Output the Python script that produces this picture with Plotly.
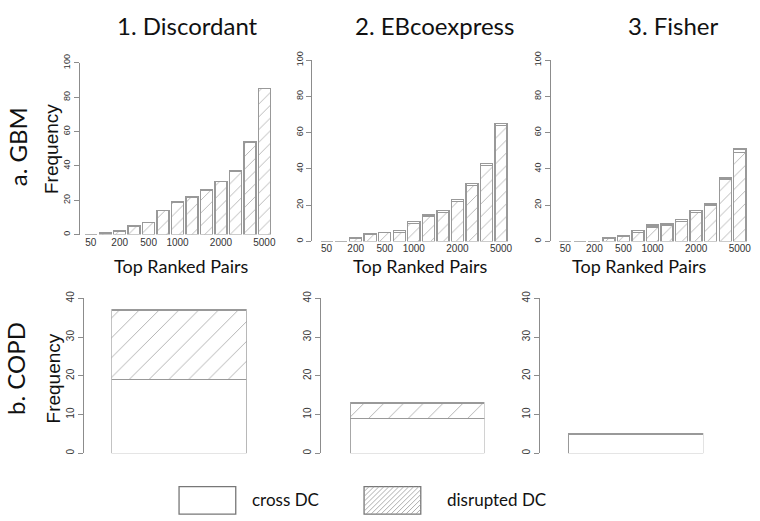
import plotly.graph_objects as go

W, H = 760, 521

pairs = ["50", "100", "200", "300", "500", "750", "1000", "1250", "1500", "2000", "3000", "4000", "5000"]
shown_pairs = ["50", "200", "500", "1000", "2000", "5000"]

gbm_disc_disrupted = [0, 1, 2, 5, 7, 14, 19, 22, 26, 31, 37, 54, 85]
gbm_disc_cross = [0, 0, 0, 0, 0, 0, 0, 0, 0, 0, 0, 0, 0]
gbm_eb_disrupted = [0, 0, 2, 4, 5, 5, 10, 14, 16, 22, 31, 42, 64]
gbm_eb_cross = [0, 0, 0, 0, 0, 1, 1, 1, 1, 1, 1, 1, 1]
gbm_fisher_disrupted = [0, 0, 0, 2, 3, 5, 8, 9, 11, 16, 20, 34, 49]
gbm_fisher_cross = [0, 0, 0, 0, 0, 1, 1, 1, 1, 1, 1, 1, 2]

copd_cross = [19, 9, 5]
copd_disrupted = [18, 4, 0]

methods = ["1. Discordant", "2. EBcoexpress", "3. Fisher"]

AX = "#8c8c8c"
BAR_LINE = "#999999"
HATCH = "#666666"
TXT = "#333333"
TITLE_FONT = "Lato"
AXIS_FONT = "Liberation Sans"

def px(x):
    return x / W

def py(y):
    return 1 - y / H

fig = go.Figure()

top_panels = [
    dict(x0=84, x1=273, axis=79, y0=230, y1=55),
    dict(x0=321, x1=511, axis=313, y0=237, y1=52),
    dict(x0=561, x1=751, axis=553, y0=237, y1=52),
]
bot_panels = [
    dict(x0=112, x1=248, axis=83, y0=453, y1=295),
    dict(x0=352, x1=487, axis=322, y0=453, y1=295),
    dict(x0=571, x1=707, axis=542, y0=453, y1=295),
]

top_data = [
    (gbm_disc_disrupted, gbm_disc_cross),
    (gbm_eb_disrupted, gbm_eb_cross),
    (gbm_fisher_disrupted, gbm_fisher_cross),
]

layout = {}
for i, (p, (dis, cro)) in enumerate(zip(top_panels, top_data)):
    n = i + 1
    xa, ya = f"x{n}", f"y{n}"
    fig.add_trace(go.Bar(
        x=pairs, y=dis, xaxis=xa, yaxis=ya, width=0.83,
        marker=dict(color="white", line=dict(color=BAR_LINE, width=1.4),
                    pattern=dict(shape="/", fgcolor=HATCH, bgcolor="white", size=9, solidity=0.1)),
        showlegend=False, hoverinfo="skip"))
    fig.add_trace(go.Bar(
        x=pairs, y=cro, xaxis=xa, yaxis=ya, width=0.83,
        marker=dict(color="white", line=dict(color=BAR_LINE, width=1.4)),
        showlegend=False, hoverinfo="skip"))
    layout[f"xaxis{n}"] = dict(
        domain=[px(p["x0"]), px(p["x1"])], anchor=ya, type="category",
        categoryorder="array", categoryarray=pairs, range=[-0.5, 12.5],
        showline=False, showgrid=False, zeroline=False, ticks="",
        tickmode="array", tickvals=shown_pairs, ticktext=shown_pairs,
        tickfont=dict(family=AXIS_FONT, size=10, color=TXT), ticklabelstandoff=0)
    layout[f"yaxis{n}"] = dict(
        domain=[py(p["y0"]), py(p["y1"])], anchor="free", position=px(p["axis"]),
        range=[0, 100], tickvals=[0, 20, 40, 60, 80, 100], tickangle=-90,
        showline=True, linecolor=AX, linewidth=1, ticks="outside", ticklen=5,
        tickcolor=AX, showgrid=False, zeroline=False,
        tickfont=dict(family=AXIS_FONT, size=9, color=TXT))

for i, p in enumerate(bot_panels):
    n = i + 4
    xa, ya = f"x{n}", f"y{n}"
    fig.add_trace(go.Bar(
        x=[0], y=[copd_cross[i]], xaxis=xa, yaxis=ya, width=1,
        marker=dict(color="white", line=dict(color=BAR_LINE, width=1.4)),
        showlegend=False, hoverinfo="skip"))
    fig.add_trace(go.Bar(
        x=[0], y=[copd_disrupted[i]], xaxis=xa, yaxis=ya, width=1,
        marker=dict(color="white", line=dict(color=BAR_LINE, width=1.4),
                    pattern=dict(shape="/", fgcolor=HATCH, bgcolor="white", size=14, solidity=0.07)),
        showlegend=False, hoverinfo="skip"))
    layout[f"xaxis{n}"] = dict(
        domain=[px(p["x0"]), px(p["x1"])], anchor=ya, range=[-0.5, 0.5],
        showline=False, showgrid=False, zeroline=False, showticklabels=False, ticks="")
    layout[f"yaxis{n}"] = dict(
        domain=[py(p["y0"]), py(p["y1"])], anchor="free", position=px(p["axis"]),
        range=[0, 40], tickvals=[0, 10, 20, 30, 40], tickangle=-90,
        showline=True, linecolor=AX, linewidth=1, ticks="outside", ticklen=5,
        tickcolor=AX, showgrid=False, zeroline=False,
        tickfont=dict(family=AXIS_FONT, size=10, color=TXT))

def ann(text, x, y, font, size, angle=0, xanchor="center", color="#111"):
    return dict(text=text, x=px(x), y=py(y), xref="paper", yref="paper",
                xanchor=xanchor, yanchor="middle", textangle=angle, showarrow=False,
                font=dict(family=font, size=size, color=color))

annotations = []
for t, x in zip(methods, [188, 437, 677]):
    annotations.append(ann(t, x, 17, TITLE_FONT, 24))
for x in [182, 423, 643]:
    annotations.append(ann("Top Ranked Pairs", x, 262, TITLE_FONT, 18))
annotations.append(ann("a. GBM", 17, 140, TITLE_FONT, 24, angle=-90))
annotations.append(ann("b. COPD", 16, 366, TITLE_FONT, 24, angle=-90))
annotations.append(ann("Frequency", 52, 143, AXIS_FONT, 19, angle=-90))
annotations.append(ann("Frequency", 54, 377, AXIS_FONT, 19, angle=-90))
annotations.append(ann("cross DC", 251, 500, TITLE_FONT, 17, xanchor="left"))
annotations.append(ann("disrupted DC", 447, 500, TITLE_FONT, 17, xanchor="left"))

shapes = []
lx0, lx1, ly0, ly1 = 180, 237, 487, 515
shapes.append(dict(type="rect", xref="paper", yref="paper", x0=px(lx0), x1=px(lx1), y0=py(ly1), y1=py(ly0),
                   line=dict(color="#777", width=1.3), fillcolor="white"))
hx0, hx1 = 366, 423
path = ""
step = 5
h = ly1 - ly0
k = hx0 - h
while k < hx1:
    xa_, ya_ = k, ly1
    xb_, yb_ = k + h, ly0
    if xa_ < hx0:
        ya_ = ly1 - (hx0 - xa_)
        xa_ = hx0
    if xb_ > hx1:
        yb_ = ly0 + (xb_ - hx1)
        xb_ = hx1
    if xa_ < xb_:
        path += f"M{px(xa_)},{py(ya_)} L{px(xb_)},{py(yb_)} "
    k += step
shapes.append(dict(type="rect", xref="paper", yref="paper", x0=px(hx0), x1=px(hx1), y0=py(ly1), y1=py(ly0),
                   line=dict(color="#777", width=1.3), fillcolor="white"))
shapes.append(dict(type="path", xref="paper", yref="paper", path=path, line=dict(color="#999", width=0.8)))

fig.update_layout(
    width=W, height=H, margin=dict(l=0, r=0, t=0, b=0),
    paper_bgcolor="white", plot_bgcolor="white", barmode="stack",
    annotations=annotations, shapes=shapes, **layout)

fig.write_html("out.html", config={"displayModeBar": False},
               post_script="document.body.style.margin='0';")
